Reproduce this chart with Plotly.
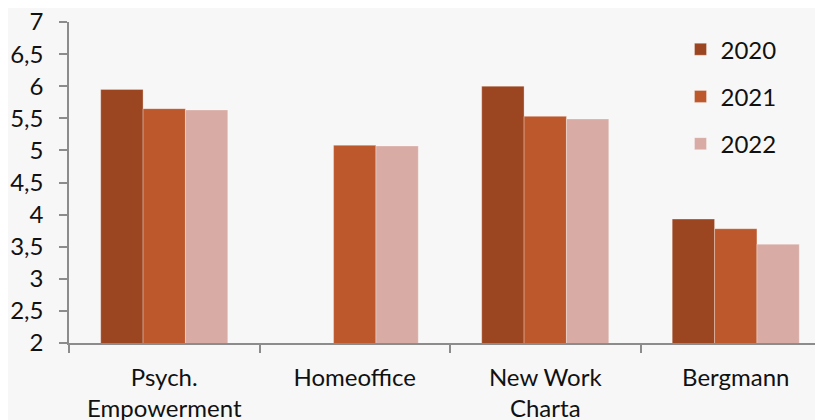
import plotly.graph_objects as go

categories = ["Psych.<br>Empowerment", "Homeoffice", "New Work<br>Charta", "Bergmann"]
years = ["2020", "2021", "2022"]
v2020 = [5.95, None, 6.00, 3.93]
v2021 = [5.65, 5.08, 5.53, 3.78]
v2022 = [5.63, 5.07, 5.49, 3.54]
colors = ["#9C4521", "#BD582D", "#D8ACA4"]
y_ticks = [2, 2.5, 3, 3.5, 4, 4.5, 5, 5.5, 6, 6.5, 7]
y_labels = ["2", "2,5", "3", "3,5", "4", "4,5", "5", "5,5", "6", "6,5", "7"]

fig = go.Figure()
for i, (name, vals) in enumerate(zip(years, [v2020, v2021, v2022])):
    fig.add_trace(go.Bar(
        x=categories, y=vals, name=name, legendgroup=name,
        marker=dict(color=colors[i], line=dict(width=0.6, color="rgba(255,255,255,0.5)")),
    ))

font_family = "Lato, 'Open Sans', sans-serif"
fig.update_layout(
    width=815, height=412,
    margin=dict(l=61, r=0, t=14, b=77),
    paper_bgcolor="#f7f7f7", plot_bgcolor="#f7f7f7",
    barmode="group", bargap=0.333, bargroupgap=0,
    font=dict(family=font_family, size=24, color="#111111"),
    legend=dict(x=0.811, y=0.984, xanchor="left", yanchor="top",
                bgcolor="rgba(0,0,0,0)", font=dict(size=24),
                traceorder="grouped", tracegroupgap=13),
    showlegend=True,
)
fig.update_xaxes(
    range=[-0.5, 3.458], showgrid=False, showline=True, linecolor="#8c8c8c", linewidth=1.5,
    ticks="outside", tickson="boundaries", ticklen=8, tickcolor="#8c8c8c", tickwidth=1.5,
    tickfont=dict(size=24), automargin=False, ticklabelstandoff=12,
    ticklabeloverflow="allow",
)
fig.update_yaxes(
    range=[2, 7], tickvals=y_ticks, ticktext=y_labels, showgrid=False, zeroline=False,
    showline=True, linecolor="#8c8c8c", linewidth=1.5,
    ticks="outside", ticklen=8, tickcolor="#8c8c8c", tickwidth=1.5,
    tickfont=dict(size=24), ticklabelstandoff=11, automargin=False,
    ticklabeloverflow="allow",
)
fig.write_html("out.html")
